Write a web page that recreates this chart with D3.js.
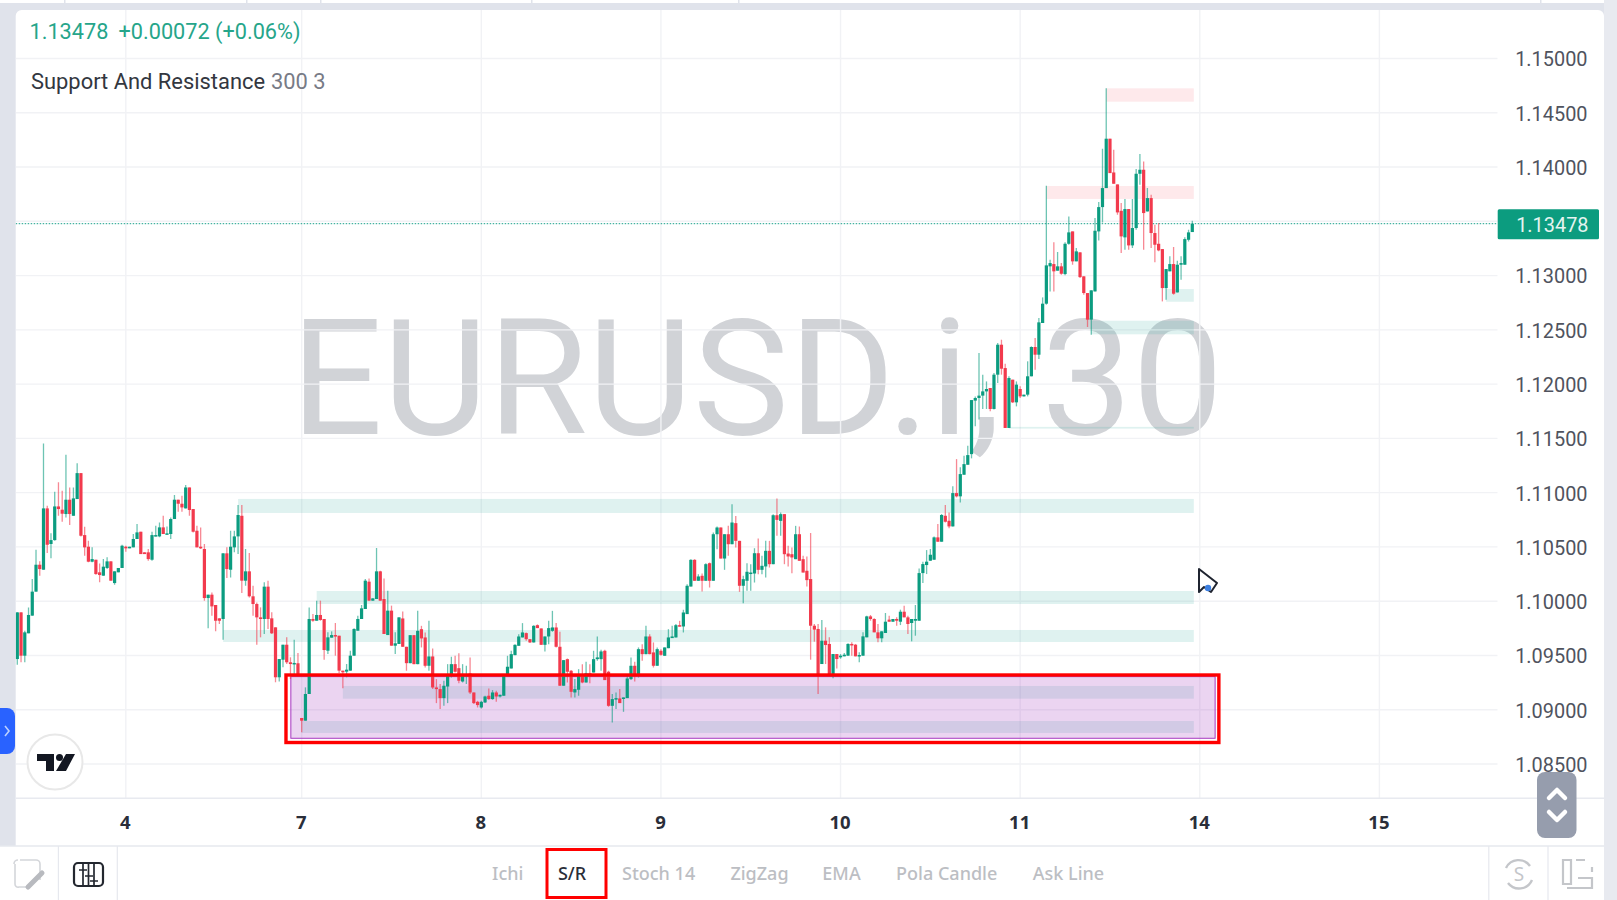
<!DOCTYPE html>
<html><head><meta charset="utf-8">
<script src="https://cdn.jsdelivr.net/npm/d3@7"></script>
<style>
html,body{margin:0;padding:0;background:#fff;overflow:hidden}
svg{display:block}
</style></head><body>
<svg id="c" width="1617" height="900"></svg>
<script>
// Candles: [open, high, low, close] in 1e-5 price points, one array per trading day
const bars3=[[109467,109897,109415,109897],[109897,109897,109437,109498],[109498,109728,109437,109713],[109704,109943,109704,109873],[109867,110204,109867,110088],[110088,110474,110088,110336],[110336,110367,110235,110296],[110290,111454,110290,110855],[110855,110880,110444,110520],[110527,110625,110395,110563],[110563,111009,110557,110873],[110873,111095,110787,110849],[110843,111018,110732,110806],[110803,111349,110772,110935],[110935,111048,110702,110803],[110787,111048,110787,110947],[110941,111270,110941,111180],[111180,111180,110597,110603],[110609,110686,110419,110496],[110502,110557,110358,110364],[110364,110496,110358,110388],[110382,110382,110244,110250],[110266,110348,110174,110241],[110235,110388,110235,110318],[110306,110404,110296,110367],[110367,110367,110189,110189],[110167,110275,110152,110275],[110266,110306,110266,110306],[110306,110520,110306,110511]];
const bars4=[[110502,110511,110456,110487],[110487,110502,110487,110502],[110496,110619,110496,110573],[110573,110711,110573,110634],[110640,110640,110434,110434],[110450,110450,110434,110434],[110450,110481,110373,110388],[110382,110640,110373,110609],[110597,110695,110597,110609],[110597,110726,110588,110680],[110680,110787,110619,110619],[110616,110689,110616,110625],[110619,110772,110573,110757],[110757,110978,110757,110935],[110935,110935,110824,110898],[110898,110972,110824,110864],[110855,111070,110855,111048],[111048,111048,110787,110840],[110849,110849,110634,110640],[110649,110695,110496,110496],[110502,110680,110481,110487],[110481,110527,110005,110029],[110029,110060,109750,110060],[110060,110081,109867,109952],[109965,109965,109722,109820],[109842,109842,109790,109820],[109836,110441,109645,110441],[110441,110496,110213,110296],[110290,110649,110219,110502],[110496,110649,110450,110597],[110597,110886,110434,110794],[110787,110886,110075,110189],[110189,110481,110143,110275],[110275,110444,110035,110045],[110045,110143,109867,109974],[109974,109989,109599,109851],[109851,109943,109667,109836],[109836,110174,109698,110134],[110134,110189,109744,109836],[109842,109897,109698,109704],[109759,109759,109253,109299],[109299,109467,109259,109467],[109461,109599,109391,109599],[109599,109667,109421,109437],[109437,109483,109283,109421],[109421,109645,109314,109431],[109428,109523,109314,109329]];
const bars7=[[108924,108924,108792,108899],[108899,109206,108899,109145],[109145,109943,109145,109836],[109836,109882,109811,109820],[109820,110005,109820,109873],[109873,110005,109820,109827],[109836,109836,109461,109550],[109544,109713,109513,109667],[109664,109722,109664,109688],[109688,109799,109498,109676],[109682,109682,109338,109360],[109360,109360,109197,109345],[109351,109421,109299,109369],[109360,109544,109360,109498],[109498,109750,109498,109744],[109728,109867,109728,109836],[109836,109965,109836,109934],[109928,110204,109928,110189],[110180,110210,110005,110005],[110005,110026,110005,110026],[110020,110490,110020,110275],[110275,110281,110005,110005],[110020,110210,109698,109698],[109688,110097,109688,109913],[109913,109959,109590,109590],[109590,109713,109513,109612],[109606,109851,109606,109851],[109841,109905,109580,109580],[109580,109580,109359,109429],[109429,109687,109429,109687],[109687,109687,109420,109420],[109420,109911,109420,109727],[109742,109773,109574,109657],[109666,109712,109389,109405],[109405,109819,109359,109491],[109491,109564,109190,109205],[109205,109282,109061,109190],[109190,109236,109006,109107],[109107,109267,109036,109221],[109214,109420,109061,109313],[109313,109488,109297,109420],[109420,109497,109343,109350],[109383,109521,109245,109267],[109260,109420,109251,109313],[109313,109405,109236,109328],[109334,109482,109144,109159],[109159,109159,109052,109061],[109073,109082,109021,109043]];
const bars8=[[109021,109082,109012,109073],[109067,109129,109061,109122],[109129,109196,109092,109098],[109098,109181,109092,109159],[109159,109175,109073,109122],[109122,109138,109113,109138],[109129,109322,109129,109322],[109322,109497,109322,109396],[109380,109543,109380,109512],[109503,109604,109503,109598],[109589,109696,109589,109675],[109666,109798,109666,109712],[109706,109712,109635,109650],[109650,109650,109614,109620],[109620,109779,109620,109773],[109779,109786,109752,109752],[109749,109749,109598,109598],[109598,109675,109537,109675],[109675,109819,109604,109752],[109727,109911,109718,109758],[109758,109798,109574,109580],[109580,109718,109221,109221],[109221,109457,109221,109457],[109466,109472,109251,109350],[109359,109365,109113,109165],[109159,109282,109113,109190],[109184,109374,109129,109313],[109313,109420,109245,109251],[109251,109442,109251,109337],[109337,109420,109245,109328],[109343,109543,109343,109466],[109466,109675,109451,109482],[109466,109552,109359,109537],[109543,109552,109273,109273],[109350,109359,109027,109036],[109036,109144,108883,109098],[109098,109159,109006,109107],[109104,109190,109061,109061],[109104,109113,108981,109113],[109107,109313,109107,109288],[109282,109482,109273,109405],[109405,109442,109260,109328],[109328,109574,109297,109558],[109558,109604,109451,109512],[109512,109773,109512,109675],[109675,109696,109512,109512],[109528,109620,109389,109405],[109405,109574,109405,109558]];
const bars9=[[109543,109558,109497,109506],[109497,109574,109497,109574],[109567,109742,109567,109666],[109660,109773,109660,109675],[109666,109789,109666,109779],[109779,109819,109767,109767],[109767,109921,109712,109896],[109881,110157,109881,110142],[110135,110387,110135,110381],[110381,110387,110188,110188],[110188,110249,110188,110228],[110234,110255,110089,110188],[110188,110350,110188,110341],[110350,110356,110126,110188],[110188,110633,110188,110617],[110617,110688,110479,110679],[110679,110679,110393,110393],[110393,110617,110289,110617],[110617,110694,110418,110525],[110525,110894,110525,110725],[110719,110786,110495,110556],[110556,110556,110086,110142],[110142,110234,109982,110203],[110188,110350,110096,110271],[110255,110341,110096,110264],[110255,110488,110172,110442],[110442,110578,110249,110289],[110289,110418,110249,110326],[110320,110556,110218,110464],[110464,110556,110310,110341],[110341,110802,110341,110792],[110792,110946,110602,110749],[110740,110817,110602,110802],[110802,110802,110341,110433],[110439,110510,110320,110412],[110433,110495,110258,110403],[110387,110694,110387,110617],[110617,110688,110372,110372],[110387,110418,110264,110264],[110280,110412,110135,110194],[110204,110628,109461,109774],[109774,109790,109627,109738],[109744,109790,109145,109329],[109421,109827,109421,109636],[109636,109759,109421,109596],[109606,109667,109329,109329],[109329,109513,109289,109513],[109513,109513,109381,109467]];
const bars10=[[109483,109513,109470,109498],[109492,109523,109492,109507],[109498,109612,109498,109606],[109606,109621,109498,109596],[109599,109606,109492,109492],[109492,109529,109437,109504],[109498,109713,109498,109676],[109667,109867,109667,109860],[109860,109873,109820,109836],[109836,109842,109713,109713],[109713,109790,109621,109658],[109658,109722,109621,109722],[109707,109891,109707,109811],[109830,109867,109811,109811],[109811,109836,109811,109836],[109836,109851,109774,109820],[109811,109922,109780,109903],[109903,109959,109851,109851],[109851,109867,109698,109790],[109799,109836,109630,109836],[109820,109965,109682,109836],[109820,110302,109820,110259],[110259,110364,110167,110342],[110333,110471,110250,110364],[110373,110481,110373,110428],[110382,110597,110382,110588],[110588,110711,110548,110548],[110548,110803,110548,110794],[110787,110886,110726,110732],[110741,110818,110671,110689],[110689,111058,110689,110996],[110996,111309,110956,110966],[110966,111233,110910,111171],[111165,111340,111165,111263],[111257,111432,111257,111346],[111355,111853,111316,111853],[111848,111887,111611,111872],[111872,112287,111673,111894],[111894,112087,111771,111933],[111933,112025,111771,111955],[111964,111964,111749,111771],[111771,112102,111765,112087],[112087,112379,112010,112363],[112363,112409,112087,112142],[112148,112188,111596,111596],[111596,112072,111596,112056],[112041,112041,111826,111832],[111832,112025,111795,111995]];
const bars11=[[111955,111980,111872,111887],[111887,111903,111887,111903],[111903,112210,111887,112072],[112072,112348,112072,112342],[112342,112425,112133,112271],[112271,112609,112231,112569],[112563,112799,112563,112741],[112741,113828,112732,113094],[113085,113146,112854,113115],[113106,113306,112854,113039],[113045,113217,113045,113085],[113085,113115,113008,113017],[113014,113306,113002,113293],[113293,113545,113284,113398],[113407,113407,113100,113131],[113131,113254,113131,113223],[113214,113214,112977,112986],[112993,112993,112824,112839],[112839,112839,112526,112594],[112594,112864,112455,112864],[112854,113530,112854,113413],[113407,113677,113324,113631],[113631,114168,113490,113806],[113806,114727,113806,114261],[114261,114261,113944,113944],[113950,114159,113846,113846],[113840,113840,113561,113582],[113597,113668,113208,113361],[113352,113705,113238,113613],[113613,113613,113238,113278],[113278,113705,113254,113438],[113438,113981,113422,113938],[113938,114119,113837,113975],[113975,114052,113238,113576],[113591,113806,113591,113714],[113714,113745,113254,113392],[113392,113468,113122,113284],[113293,113484,113223,113232],[113244,113244,112762,112885],[112885,113060,112778,113060],[113039,113177,113039,113106],[113106,113263,112824,112833],[112845,113137,112845,113100],[113100,113177,112962,113115],[113100,113352,113100,113336],[113330,113422,113315,113398],[113401,113505,113401,113478]];

// Support / resistance zones: [first bar, top, bottom] in 1e-5 price points
const supportZones=[[59,110942,110813],[80,110094,109974],[55,109735,109624],[87,109219,109102],[76,108896,108786],[287,112584,112459],[307,112876,112759],[265,111606,111590]];
const resistanceZones=[[291,114725,114602],[275,113825,113706]];
const lastZoneBar=[314];

const priceTicks=[1.15,1.145,1.14,1.135,1.13,1.125,1.12,1.115,1.11,1.105,1.10,1.095,1.09,1.085];
const dayTicks=[29,76,124,172,220,268,316,364];
const dayLabels=["4","7","8","9","10","11","14","15"];
const lastPrice=[1.13478];
const highlight=[73.1,320.1,109305,108737];   // purple annotation box: bars and price points
const redFrame=[71.8,321.1,109320,108698];    // red annotation frame
const toolTabs=["Ichi","S/R","Stoch 14","ZigZag","EMA","Pola Candle","Ask Line"];
const tabCentres=[507.8,572,658.6,759.5,841.5,946.7,1068.5];

const bars=[...bars3,...bars4,...bars7,...bars8,...bars9,...bars10,...bars11];
const GREEN="#0b9c80",RED="#f23a4d";

const svg=d3.select("#c");
const x=d3.scaleLinear().domain([0,364]).range([17.3,1379.4]);
const y=d3.scaleLinear().domain([1.15,1.085]).range([58.5,764]);
const yp=p=>y(p/1e5);
const step=x(1)-x(0);

// page chrome
svg.append("rect").attr("width",1617).attr("height",900).attr("fill","#e0e3eb");
svg.append("rect").attr("width",1617).attr("height",3).attr("fill","#fff");
[64,246,320,531,738,1540].forEach(v=>svg.append("rect").attr("x",v).attr("width",1.5).attr("height",3).attr("fill","#e0e3eb"));
svg.append("rect").attr("x",1604).attr("y",0).attr("width",13).attr("height",900).attr("fill","#e8eaf0");
svg.append("rect").attr("x",15.7).attr("y",10).attr("width",1588.3).attr("height",845).attr("rx",6).attr("fill","#fff");
svg.append("rect").attr("x",0).attr("y",846).attr("width",1604).attr("height",54).attr("fill","#fff");

const defs=svg.append("defs");
defs.append("clipPath").attr("id","plot").append("rect").attr("x",15.7).attr("y",10).attr("width",1482).attr("height",788);

// watermark
svg.append("text").attr("x",757).attr("y",434).attr("text-anchor","middle")
  .attr("font-family","Roboto").attr("font-size",162).attr("fill","#d1d3d7").text("EURUSD.i, 30");

const plot=svg.append("g").attr("clip-path","url(#plot)");

// grid
plot.append("g").selectAll("line").data(priceTicks).join("line")
  .attr("x1",15.7).attr("x2",1497.7).attr("y1",d=>y(d)).attr("y2",d=>y(d))
  .attr("stroke","#f1f2f5").attr("stroke-width",1.4);
plot.append("g").selectAll("line").data(dayTicks).join("line")
  .attr("x1",d=>x(d)).attr("x2",d=>x(d)).attr("y1",10).attr("y2",798)
  .attr("stroke","#f1f2f5").attr("stroke-width",1.4);

// zones
const zoneRect=(data,fill)=>plot.append("g").selectAll("rect").data(data).join("rect")
  .attr("x",d=>x(d[0])).attr("width",d=>x(lastZoneBar[0])-x(d[0])+1.5)
  .attr("y",d=>yp(d[1])).attr("height",d=>yp(d[2])-yp(d[1])).attr("fill",fill);
zoneRect(supportZones,"rgba(38,166,154,0.15)");
zoneRect(resistanceZones,"rgba(242,54,69,0.11)");

// purple highlight
svg.append("rect").attr("x",x(highlight[0])).attr("width",x(highlight[1])-x(highlight[0]))
  .attr("y",yp(highlight[2])).attr("height",yp(highlight[3])-yp(highlight[2]))
  .attr("fill","rgba(163,60,190,0.22)").attr("stroke","#a838c0").attr("stroke-width",1);

// last price dotted line
plot.append("line").attr("x1",15.7).attr("x2",1497.7).attr("y1",y(lastPrice[0])).attr("y2",y(lastPrice[0]))
  .attr("stroke","#1aa08a").attr("stroke-width",1).attr("stroke-dasharray","1.5 1.5");

// candles
const candles=svg.append("g").attr("clip-path","url(#plot)").selectAll("g").data(bars).join("g");
candles.append("line").attr("x1",(d,i)=>x(i)).attr("x2",(d,i)=>x(i))
  .attr("y1",d=>yp(d[1])).attr("y2",d=>yp(d[2]))
  .attr("stroke",d=>d[3]>=d[0]?GREEN:RED).attr("stroke-width",1.3).attr("stroke-opacity",.6);
candles.append("rect").attr("x",(d,i)=>x(i)-step*.43).attr("width",step*.86)
  .attr("y",d=>yp(Math.max(d[0],d[3])))
  .attr("height",d=>Math.max(1.5,Math.abs(yp(d[0])-yp(d[3]))))
  .attr("fill",d=>d[3]>=d[0]?GREEN:RED);

// red frame
svg.append("rect").attr("x",x(redFrame[0])).attr("width",x(redFrame[1])-x(redFrame[0]))
  .attr("y",yp(redFrame[2])).attr("height",yp(redFrame[3])-yp(redFrame[2]))
  .attr("fill","none").attr("stroke","#ff0000").attr("stroke-width",3.4);

// axes
const yAxis=d3.axisRight(y).tickValues(priceTicks).tickFormat(d3.format(".5f")).tickSize(0).tickPadding(0);
const gy=svg.append("g").attr("transform","translate(1587.5,1)").call(yAxis);
gy.select(".domain").remove();
gy.selectAll("text").attr("text-anchor","end").attr("font-family","Roboto").attr("font-size",19.9).attr("fill","#50535e").attr("x",0);
gy.selectAll(".tick").filter(d=>d===1.135).remove();

const xAxis=d3.axisBottom(x).tickValues(dayTicks).tickFormat((d,i)=>dayLabels[i]).tickSize(0).tickPadding(0);
const gx=svg.append("g").attr("transform","translate(-1,0)").call(xAxis);
gx.select(".domain").remove();
gx.selectAll("text").attr("y",823).attr("dy",".35em").attr("font-family","'Noto Sans'").attr("font-weight",700).attr("font-size",18.5).attr("fill","#2a2e39");

svg.append("line").attr("x1",15.7).attr("x2",1604).attr("y1",798.3).attr("y2",798.3).attr("stroke","#e8eaf0").attr("stroke-width",1.5);
svg.append("line").attr("x1",0).attr("x2",1604).attr("y1",846).attr("y2",846).attr("stroke","#e6e8ee").attr("stroke-width",1.5);
[58.4,117.3,1488.8,1548].forEach(v=>svg.append("line").attr("x1",v).attr("x2",v).attr("y1",846).attr("y2",900).attr("stroke","#e6e8ee").attr("stroke-width",1.2));

// price tag
svg.append("rect").attr("x",1497.7).attr("y",209.3).attr("width",101.3).attr("height",30).attr("rx",1.5).attr("fill","#0c9c7f");
svg.append("text").attr("x",1588.5).attr("y",225).attr("dy",".35em").attr("text-anchor","end").attr("font-family","Roboto")
  .attr("font-size",19.9).attr("fill","#e4f4f0").text(d3.format(".5f")(lastPrice[0]));

// legend
const leg=svg.append("g").attr("font-family","Roboto");
leg.append("text").attr("x",29.5).attr("y",39).attr("font-size",21.7).attr("fill","#26a58a").text("1.13478");
leg.append("text").attr("x",118.5).attr("y",39).attr("font-size",21.7).attr("fill","#26a58a").text("+0.00072 (+0.06%)");
leg.append("text").attr("x",31).attr("y",89).attr("font-size",21.9).attr("fill","#33373f").text("Support And Resistance");
leg.append("text").attr("x",271).attr("y",89).attr("font-size",21.9).attr("fill","#787b86").text("300 3");

// tool tabs
svg.append("g").selectAll("text").data(toolTabs).join("text")
  .attr("x",(d,i)=>tabCentres[i]).attr("y",873.5).attr("dy",".35em").attr("text-anchor","middle")
  .attr("font-family","'Noto Sans'").attr("font-weight",500).attr("font-size",18)
  .attr("fill",d=>d==="S/R"?"#2a2e39":"#bcbec3").text(d=>d);
svg.append("rect").attr("x",547).attr("y",849.5).attr("width",59).attr("height",48).attr("fill","none").attr("stroke","#ff0000").attr("stroke-width",3);

// left blue handle
svg.append("path").attr("d","M0 708H7a8 8 0 0 1 8 8V746a8 8 0 0 1 -8 8H0Z").attr("fill","#2962ff");
svg.append("path").attr("d","M5 726l4 5l-4 5").attr("fill","none").attr("stroke","#bcd0ff").attr("stroke-width",1.6);

// TV logo
svg.append("circle").attr("cx",55).attr("cy",762).attr("r",27.5).attr("fill","#fff").attr("stroke","#e8e8e8").attr("stroke-width",2);
svg.append("path").attr("d","M37 754H54V771H46V761H37Z M66 754H75L66 771H56Z").attr("fill","#131722");
svg.append("circle").attr("cx",59.5).attr("cy",757.5).attr("r",3.5).attr("fill","#131722");

// scroll control
svg.append("rect").attr("x",1537).attr("y",772).attr("width",39.5).attr("height",66).attr("rx",8).attr("fill","#969dad");
svg.append("path").attr("d","M1549 798l8-8l8 8M1549 812l8 8l8-8").attr("fill","none").attr("stroke","#fff").attr("stroke-width",4.5).attr("stroke-linecap","round").attr("stroke-linejoin","round");

// mouse cursor
svg.append("path").attr("d","M1199 569L1217 583L1211 592L1204 587L1199 592Z").attr("fill","#fff").attr("stroke","#1f2430").attr("stroke-width",2).attr("stroke-linejoin","round");
svg.append("circle").attr("cx",1208).attr("cy",588).attr("r",3.2).attr("fill","#3d7fe0");

// toolbar icons
svg.append("path").attr("d","M20 860H36a4 4 0 0 1 4 4V880M14 864a4 4 0 0 1 4-4V860M15 864V884a3 3 0 0 0 4 3H27").attr("fill","none").attr("stroke","#d4d6da").attr("stroke-width",1.6);
svg.append("path").attr("d","M28 887L42 873").attr("stroke","#b8babf").attr("stroke-width",5).attr("stroke-linecap","round");
svg.append("rect").attr("x",74).attr("y",863).attr("width",29).attr("height",23).attr("rx",4).attr("fill","none").attr("stroke","#23272f").attr("stroke-width",2.2);
svg.append("path").attr("d","M83 863V886M88.5 863V886M94 863V886M79 870h8M85 876h8M90 881h8").attr("stroke","#23272f").attr("stroke-width",1.7);
svg.append("path").attr("d","M1506 868a14 14 0 0 1 24-2M1532 880a14 14 0 0 1-24 3").attr("fill","none").attr("stroke","#c4c6ca").attr("stroke-width",2.4);
svg.append("text").attr("x",1519).attr("y",874).attr("dy",".36em").attr("text-anchor","middle").attr("font-family","'Noto Sans'").attr("font-size",19).attr("fill","#c4c6ca").text("S");
svg.append("path").attr("d","M1563 860H1571V884H1563Z M1576 860H1585M1592 867V872M1567 888H1592V878H1578").attr("fill","none").attr("stroke","#c4c6ca").attr("stroke-width",2.2);
</script>
</body></html>
